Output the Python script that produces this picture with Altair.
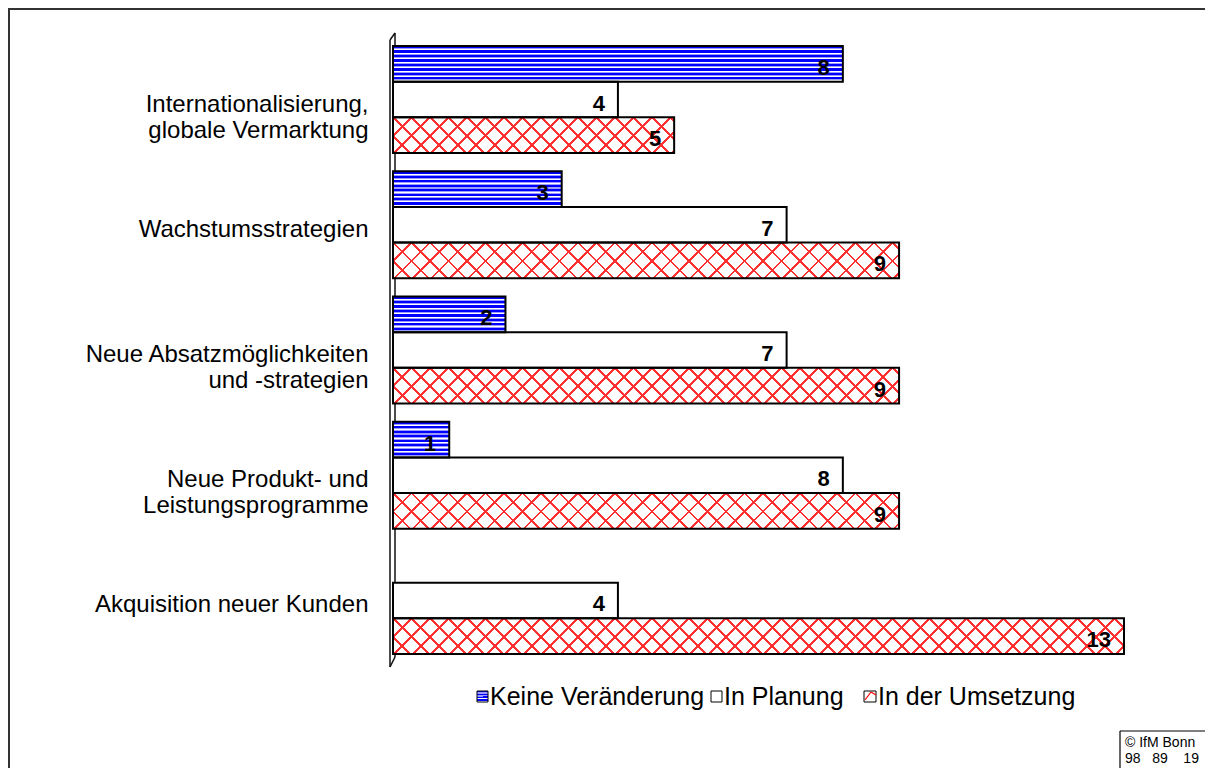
import math
import altair as alt

# ---------------- data ----------------
categories = [
    "Internationalisierung,|globale Vermarktung",
    "Wachstumsstrategien",
    "Neue Absatzmöglichkeiten|und -strategien",
    "Neue Produkt- und|Leistungsprogramme",
    "Akquisition neuer Kunden",
]
series = ["Keine Veränderung", "In Planung", "In der Umsetzung"]
keine_veraenderung = [8, 3, 2, 1, 0]
in_planung = [4, 7, 7, 8, 4]
in_der_umsetzung = [5, 9, 9, 9, 13]
x_domain_max = 13

# ---------------- layout ----------------
PLOT_W, PLOT_H = 731, 634
ORIGIN_X, ORIGIN_Y = 393, 33          # page position of the plot origin
PAD_INNER, PAD_OUTER = 0.146, 0.104
FONT = "Liberation Sans"

step = PLOT_H / (len(categories) - PAD_INNER + 2 * PAD_OUTER)
bar_h = step * (1 - PAD_INNER) / len(series)
px_per_unit = PLOT_W / x_domain_max


def rx(px):
    return px - ORIGIN_X


def ry(py):
    return py - ORIGIN_Y


# ---------------- fill styles ----------------
def blue_stripes(n=8):
    stops = []
    for k in range(n):
        b = k / n
        p = 1 / n
        stops += [
            {"offset": b, "color": "#0000ff"},
            {"offset": b + 0.5 * p, "color": "#0000ff"},
            {"offset": b + 0.5 * p, "color": "#9a9aff"},
            {"offset": b + 0.65 * p, "color": "#9a9aff"},
            {"offset": b + 0.65 * p, "color": "#ffffff"},
            {"offset": b + 0.85 * p, "color": "#ffffff"},
            {"offset": b + 0.85 * p, "color": "#9a9aff"},
            {"offset": min(b + p, 1.0), "color": "#9a9aff"},
        ]
    return {"gradient": "linear", "x1": 0, "y1": 0, "x2": 0.000001, "y2": 1, "stops": stops}


def hatch(w, h, direction, period=18.5, lw=2.0, color="#ff3030"):
    c = (1 / h + 1 / w) / (1 / h ** 2 + 1 / w ** 2)
    total = w + h
    clear = "rgba(255,0,0,0)"
    if direction == "back":
        x1, y1, x2, y2 = 0, 1, c / h, 1 - c / w
        ks = range(math.ceil(-h / period), math.floor(w / period) + 1)
        ts = [(k * period + h) / total for k in ks]
    else:
        x1, y1, x2, y2 = 0, 0, c / h, c / w
        ts = [k * period / total for k in range(0, math.floor(total / period) + 1)]
    d = lw * math.sqrt(2) / 2 / total
    stops = []
    for t in ts:
        a, b = t - d, t + d
        if b <= 0 or a >= 1:
            continue
        a = max(a, 0.0)
        b = min(b, 1.0)
        stops += [
            {"offset": a, "color": clear},
            {"offset": a, "color": color},
            {"offset": b, "color": color},
            {"offset": b, "color": clear},
        ]
    if not stops:
        stops = [{"offset": 0, "color": clear}, {"offset": 1, "color": clear}]
    return {"gradient": "linear", "x1": x1, "y1": y1, "x2": x2, "y2": y2, "stops": stops}


records = []
for i, cat in enumerate(categories):
    for s, vals in zip(series, [keine_veraenderung, in_planung, in_der_umsetzung]):
        v = vals[i]
        rec = {"cat": cat, "series": s, "value": v}
        if s == series[0]:
            rec["base"] = blue_stripes()
        else:
            rec["base"] = "#ffffff"
        if s == series[2] and v > 0:
            w = v * px_per_unit
            rec["g1"] = hatch(w, bar_h, "back")
            rec["g2"] = hatch(w, bar_h, "fwd")
        records.append(rec)

src = alt.Data(values=records)

y_enc = alt.Y(
    "cat:N",
    sort=categories,
    scale=alt.Scale(domain=categories, paddingInner=PAD_INNER, paddingOuter=PAD_OUTER),
    axis=alt.Axis(
        title=None, ticks=False, domain=False, grid=False,
        labelExpr="split(datum.label, '|')",
        labelFont=FONT, labelFontSize=24, labelColor="#000000",
        labelPadding=25, labelLineHeight=26, labelOffset=5, labelLimit=500,
    ),
)
yo_enc = alt.YOffset("series:N", sort=series,
                     scale=alt.Scale(domain=series, paddingInner=0, paddingOuter=0))
x_enc = alt.X("value:Q", scale=alt.Scale(domain=[0, x_domain_max], nice=False, zero=True), axis=None)

bars = alt.Chart(src).transform_filter("datum.value > 0")

base_fill = bars.mark_bar().encode(
    x=x_enc, y=y_enc, yOffset=yo_enc, fill=alt.Fill("base:N", scale=None))
hatch1 = bars.transform_filter("datum.series == 'In der Umsetzung'").mark_bar().encode(
    x=x_enc, y=y_enc, yOffset=yo_enc, fill=alt.Fill("g1:N", scale=None))
hatch2 = bars.transform_filter("datum.series == 'In der Umsetzung'").mark_bar().encode(
    x=x_enc, y=y_enc, yOffset=yo_enc, fill=alt.Fill("g2:N", scale=None))
outline = bars.mark_bar(fill="white", fillOpacity=0, stroke="#000000", strokeWidth=2).encode(
    x=x_enc, y=y_enc, yOffset=yo_enc)
value_labels = bars.mark_text(
    align="right", baseline="middle", dx=-13, dy=4, font=FONT, fontSize=22,
    fontWeight="bold", color="#000000",
).encode(x=x_enc, y=y_enc, yOffset=yo_enc, text=alt.Text("value:Q"))

# ---------------- decorations ----------------
one = alt.Data(values=[{"k": 0}])


def seg(x1, y1, x2, y2, color="#000000", w=1.5):
    return alt.Chart(one).mark_rule(color=color, strokeWidth=w).encode(
        x=alt.value(rx(x1)), y=alt.value(ry(y1)), x2=alt.value(rx(x2)), y2=alt.value(ry(y2)))


def box(x1, y1, x2, y2, fill, stroke="#000000", w=1):
    return alt.Chart(one).mark_rect(fill=fill, stroke=stroke, strokeWidth=w).encode(
        x=alt.value(rx(x1)), y=alt.value(ry(y1)), x2=alt.value(rx(x2)), y2=alt.value(ry(y2)))


def label(text, x, y, size, align="left", weight="normal"):
    return alt.Chart(one).mark_text(
        text=text, align=align, baseline="middle", font=FONT, fontSize=size,
        fontWeight=weight, color="#000000",
    ).encode(x=alt.value(rx(x)), y=alt.value(ry(y)))


# 3D wall of the category axis
wall = [
    seg(390, 40, 390, 667, "#111111", 1.5),
    seg(395, 33, 395, 657, "#111111", 1.5),
    seg(390, 40, 395, 33, "#111111", 1.5),
    seg(395, 657, 390, 667, "#111111", 1.5),
]

# outer frame
frame = [
    seg(8, 9, 1213, 9, "#333333", 2),
    seg(9, 8, 9, 776, "#333333", 2),
]

# legend
LEG_Y = 697
legend = [
    box(477, LEG_Y - 6, 488, LEG_Y + 5, blue_stripes(4), "#000000", 1),
    label("Keine Veränderung", 490, LEG_Y, 25),
    box(711, LEG_Y - 6, 722, LEG_Y + 5, "#ffffff", "#000000", 1),
    label("In Planung", 724, LEG_Y, 25),
    box(864, LEG_Y - 6, 876, LEG_Y + 5, "#ffffff", "#000000", 1),
    seg(865, LEG_Y + 3, 871, LEG_Y - 5, "#ff0000", 1.2),
    seg(871, LEG_Y - 5, 876, LEG_Y - 2, "#ff0000", 1.2),
    label("In der Umsetzung", 878, LEG_Y, 25),
]

# copyright box
copyright_box = [
    seg(1120, 731, 1213, 731, "#000000", 1.2),
    seg(1120, 731, 1120, 776, "#000000", 1.2),
    label("© IfM Bonn", 1125, 743, 14),
    label("98\u00a0\u00a0\u00a089\u00a0\u00a0\u00a0\u00a019", 1125, 759, 14),
]

chart = alt.layer(
    *frame, *wall, base_fill, hatch1, hatch2, outline, value_labels,
    *legend, *copyright_box,
).properties(
    width=PLOT_W, height=PLOT_H,
    padding={"left": 385, "top": 25, "right": 81, "bottom": 101},
    autosize=alt.AutoSizeParams(type="none"),
    background="#ffffff",
).configure_view(stroke=None)

chart.save("out.html", embed_options={"renderer": "svg", "actions": False})
